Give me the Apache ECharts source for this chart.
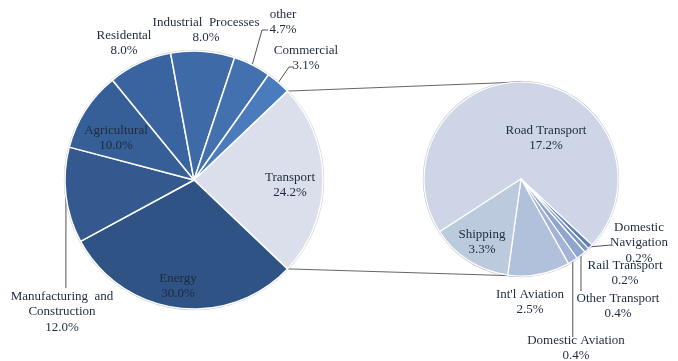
<!DOCTYPE html>
<html><head><meta charset="utf-8">
<script src="https://cdn.jsdelivr.net/npm/echarts@6/dist/echarts.min.js"></script>
<style>html,body{margin:0;padding:0;background:#fff}#c{width:678px;height:361px}</style>
</head><body><div id="c"></div>
<script>
// ---- data ----
const mainNames = ['Transport', 'Energy', 'Manufacturing  and\nConstruction', 'Agricultural', 'Residental', 'Industrial  Processes', 'other', 'Commercial'];
const mainValues = [24.2, 30.0, 12.0, 10.0, 8.0, 8.0, 4.7, 3.1];
const subNames = ['Road Transport', 'Domestic\nNavigation', 'Rail Transport', 'Other Transport', 'Domestic Aviation', "Int'l Aviation", 'Shipping'];
const subValues = [17.2, 0.2, 0.2, 0.4, 0.4, 2.5, 3.3];

// ---- style / layout ----
const mainColors = ['#dadfeb', '#2e5384', '#34598e', '#375f97', '#3a649f', '#3e6aa7', '#4371b0', '#4a7bbd'];
const subColors = ['#cdd5e6', '#5f80b6', '#7b95c3', '#8fa5cd', '#a2b3d5', '#b2c1db', '#bccade'];
const L = {cx: 194, cy: 180, r: 129};
const R = {cx: 521, cy: 179, r: 97};
const sum = a => a.reduce((x, y) => x + y, 0);
const startL = mainValues[0] / sum(mainValues) * 360 / 2;
const startR = 213;

function midAngles(vals, start) {
  const tot = sum(vals); let a = start;
  return vals.map(v => { const s = v / tot * 360; const m = a - s / 2; a -= s; return m; });
}
function edge(g, ang, f) {
  f = f || 1; const t = ang * Math.PI / 180;
  return [g.cx + g.r * f * Math.cos(t), g.cy - g.r * f * Math.sin(t)];
}
const midsL = midAngles(mainValues, startL);
const midsR = midAngles(subValues, startR);

const specL = [
  {x: 290, y: 185},
  {x: 178, y: 286},
  {x: 62, y: 312, line: [[null, 288]]},
  {x: 116, y: 138},
  {x: 124, y: 43},
  {x: 206, y: 30},
  {x: 283, y: 22, line: [[262, 30], [268, 30]]},
  {x: 306, y: 58, line: [[289, 67], [294, 67]]}
];
const specR = [
  {x: 546, y: 138},
  {x: 639, y: 243, line: [[611, 245]]},
  {x: 625, y: 273},
  {x: 618, y: 306, line: [[null, 291]]},
  {x: 576, y: 348, line: [[null, 337]]},
  {x: 530, y: 302},
  {x: 482, y: 242}
];

function makeLayout(spec, mids, g) {
  return function (p) {
    const s = spec[p.dataIndex];
    const out = {x: s.x, y: s.y, align: 'center', verticalAlign: 'middle'};
    if (s.line) {
      const e = edge(g, mids[p.dataIndex], s.r0);
      out.labelLinePoints = [e].concat(s.line.map(q => [q[0] == null ? e[0] : q[0], q[1]]));
    }
    return out;
  };
}

const labelStyle = {
  show: true, position: 'outside', fontFamily: 'Liberation Serif', fontSize: 13,
  lineHeight: 15.5, color: '#1e2a3e', align: 'center'
};

const chart = echarts.init(document.getElementById('c'), null, {renderer: 'canvas'});
chart.setOption({
  animation: false,
  backgroundColor: '#fff',
  graphic: [
    {type: 'circle', z: 0, shape: {cx: L.cx, cy: L.cy, r: L.r + 1.2}, style: {fill: '#c4c8ce'}},
    {type: 'circle', z: 0, shape: {cx: R.cx, cy: R.cy, r: R.r + 1.2}, style: {fill: '#c4c8ce'}},
    {type: 'line', z: 0, shape: {x1: edge(L, startL)[0], y1: edge(L, startL)[1], x2: R.cx, y2: R.cy - R.r}, style: {stroke: '#666', lineWidth: 1}},
    {type: 'line', z: 0, shape: {x1: edge(L, -startL)[0], y1: edge(L, -startL)[1], x2: R.cx, y2: R.cy + R.r}, style: {stroke: '#666', lineWidth: 1}}
  ],
  series: [
    {
      type: 'pie', center: [L.cx, L.cy], radius: L.r, startAngle: startL, clockwise: true,
      avoidLabelOverlap: false, silent: true,
      itemStyle: {borderColor: '#fff', borderWidth: 1.5},
      label: Object.assign({}, labelStyle, {formatter: p => p.name + '\n' + p.value.toFixed(1) + '%'}),
      labelLine: {show: false, lineStyle: {color: '#555', width: 1}},
      labelLayout: makeLayout(specL, midsL, L),
      data: mainValues.map((v, i) => ({
        name: mainNames[i], value: v, itemStyle: {color: mainColors[i]},
        labelLine: {show: !!specL[i].line}
      }))
    },
    {
      type: 'pie', center: [R.cx, R.cy], radius: R.r, startAngle: startR, clockwise: true,
      avoidLabelOverlap: false, silent: true,
      itemStyle: {borderColor: '#fff', borderWidth: 1.2},
      label: Object.assign({}, labelStyle, {formatter: p => p.name + '\n' + p.value.toFixed(1) + '%'}),
      labelLine: {show: false, lineStyle: {color: '#555', width: 1}},
      labelLayout: makeLayout(specR, midsR, R),
      data: subValues.map((v, i) => ({
        name: subNames[i], value: v, itemStyle: {color: subColors[i]},
        labelLine: {show: !!specR[i].line}
      }))
    }
  ]
});
</script>
</body></html>
